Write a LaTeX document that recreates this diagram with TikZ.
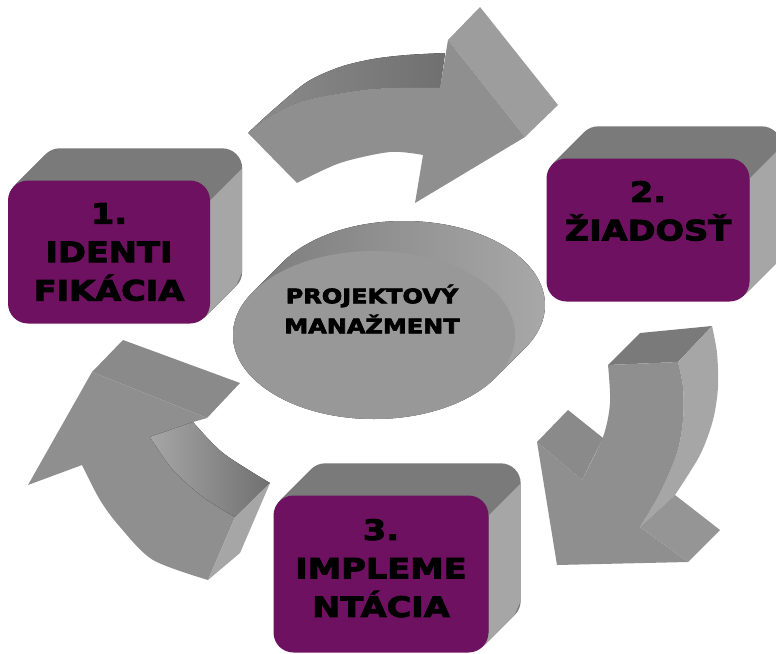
\documentclass[tikz,border=0pt]{standalone}
\usepackage{fontspec}
\newfontfamily\boxfont{DejaVu Sans}[UprightFont=* Bold, FakeStretch=1.2, FakeBold=3.5]
\usetikzlibrary{shapes.geometric,backgrounds,calc}
\definecolor{plum}{RGB}{110,17,96}
\definecolor{frontgray}{RGB}{143,143,143}
\definecolor{topgray}{RGB}{122,122,122}
\definecolor{sidegray}{RGB}{166,166,166}
\definecolor{headgray}{RGB}{157,157,157}
\definecolor{barbgray}{RGB}{138,138,138}
\definecolor{discgray}{RGB}{152,152,152}
\definecolor{discdark}{RGB}{122,122,122}
\definecolor{disclight}{RGB}{168,168,168}
\definecolor{shaftdark}{RGB}{112,112,112}
\definecolor{shaftlight}{RGB}{140,140,140}

\begin{document}
\begin{tikzpicture}[x=1pt,y=-1pt,
	stepbox/.style={fill=plum, rounded corners=20pt, inner sep=0pt, minimum width=202pt, minimum height=143pt, align=center, font=\boxfont\fontsize{28}{38.5}\selectfont},
	disc/.style={ellipse, fill=discgray, minimum width=282pt, minimum height=168pt, inner sep=0pt},
	disctext/.style={align=center, font=\boxfont\fontsize{20}{30}\selectfont}]
	\useasboundingbox (0,0) rectangle (776,653);
	\node[stepbox] (ident) at (109,252) {1.\\IDENTI\\FIKÁCIA};
	\node[stepbox, minimum width=203pt] (ziad) at (648,230) {2.\\ŽIADOSŤ\\\mbox{}};
	\node[stepbox, minimum width=215pt, minimum height=157pt, text depth=12pt] (impl) at (381,574) {3.\\IMPLEME\\NTÁCIA};
	\node[disc] (pm) at (374,335) {};
	\node[disctext] (pmlabel) at (372,309) {PROJEKTOVÝ\\MANAŽMENT};
	\begin{scope}[on background layer]
		\foreach \b in {ident,ziad,impl} {
			\foreach \k in {1,...,16}
				\fill[topgray, rounded corners=20pt] ($(\b.north west)+(2*\k,-2*\k)$) rectangle ($(\b.south east)+(2*\k,-2*\k)$);
			\fill[sidegray] ($(\b.north east)+(0,20)$) -- ++(32,-32) -- ($(\b.south east)+(32,-52)$) -- ($(\b.south east)+(26,-38)$) -- ($(\b.south east)+(-6,-6)$) -- ($(\b.south east)+(0,-20)$) -- cycle;
		}
		\begin{scope}
			\clip \foreach \k in {0,...,15} {($(pm.center)+(2*\k,-2*\k)$) ellipse [x radius=141, y radius=84]};
			\fill[left color=discdark, right color=disclight] ($(pm.center)+(-141,-115)$) rectangle ($(pm.center)+(172,84)$);
		\end{scope}
	\end{scope}
	\fill[left color=shaftlight, right color=shaftdark] plot[smooth] coordinates {(248,133) (273,110) (307,82) (340,67) (373,59) (407,55) (445,53)} -- (440,88) -- plot[smooth] coordinates {(440,88) (373,89) (307,100) (273,115) (248,133)} -- cycle;
	\fill[headgray] (448,40) -- (480,7) -- (558,105) -- (525,137) -- cycle;
	\fill[frontgray] plot[smooth] coordinates {(248,133) (273,115) (307,100) (373,89) (440,88)} -- (448,40) -- (525,137) -- (415,203) -- (423,155) -- plot[smooth] coordinates {(423,155) (390,152) (340,163) (297,183)} -- cycle;
	\fill[topgray] (608,365) -- (640,333) -- (712,326) -- (678,362) -- cycle;
	\fill[sidegray] (678,362) -- plot[smooth] coordinates {(712,326) (717,353) (718,387) (713,420) (700,455) (675,495)} -- (640,527) -- plot[smooth] coordinates {(640,527) (660,493) (677,453) (683,420) (683,387) (678,362)} -- cycle;
	\fill[frontgray] (537,442) -- (582,480) -- plot[smooth] coordinates {(582,480) (603,437) (610,403) (608,365)} -- (678,362) -- plot[smooth] coordinates {(678,362) (683,387) (683,420) (677,453) (660,493) (640,527)} -- (688,562) -- (557,565) -- cycle;
	\fill[barbgray] (537,442) -- (568,410) -- (603,438) -- (582,480) -- cycle;
	\fill[frontgray!95!white] (640,527) -- (675,495) -- (720,530) -- (688,562) -- cycle;
	\fill[barbgray] (92,372) -- (123,340) -- (240,383) -- (207,418) -- cycle;
	\fill[frontgray] (92,372) -- (207,418) -- (193,422) -- (150,437) -- plot[smooth] coordinates {(150,437) (173,470) (203,497) (235,517)} -- (208,580) -- plot[smooth] coordinates {(208,580) (153,560) (120,527) (100,500) (82,465)} -- (28,485) -- cycle;
	\fill[left color=sidegray, right color=shaftdark] (150,437) -- (193,422) -- plot[smooth] coordinates {(193,422) (223,453) (270,483)} -- (235,517) -- plot[smooth] coordinates {(235,517) (203,497) (173,470) (150,437)} -- cycle;
	\fill[sidegray] (235,517) -- (270,483) -- (240,553) -- (208,580) -- cycle;
\end{tikzpicture}
\end{document}
